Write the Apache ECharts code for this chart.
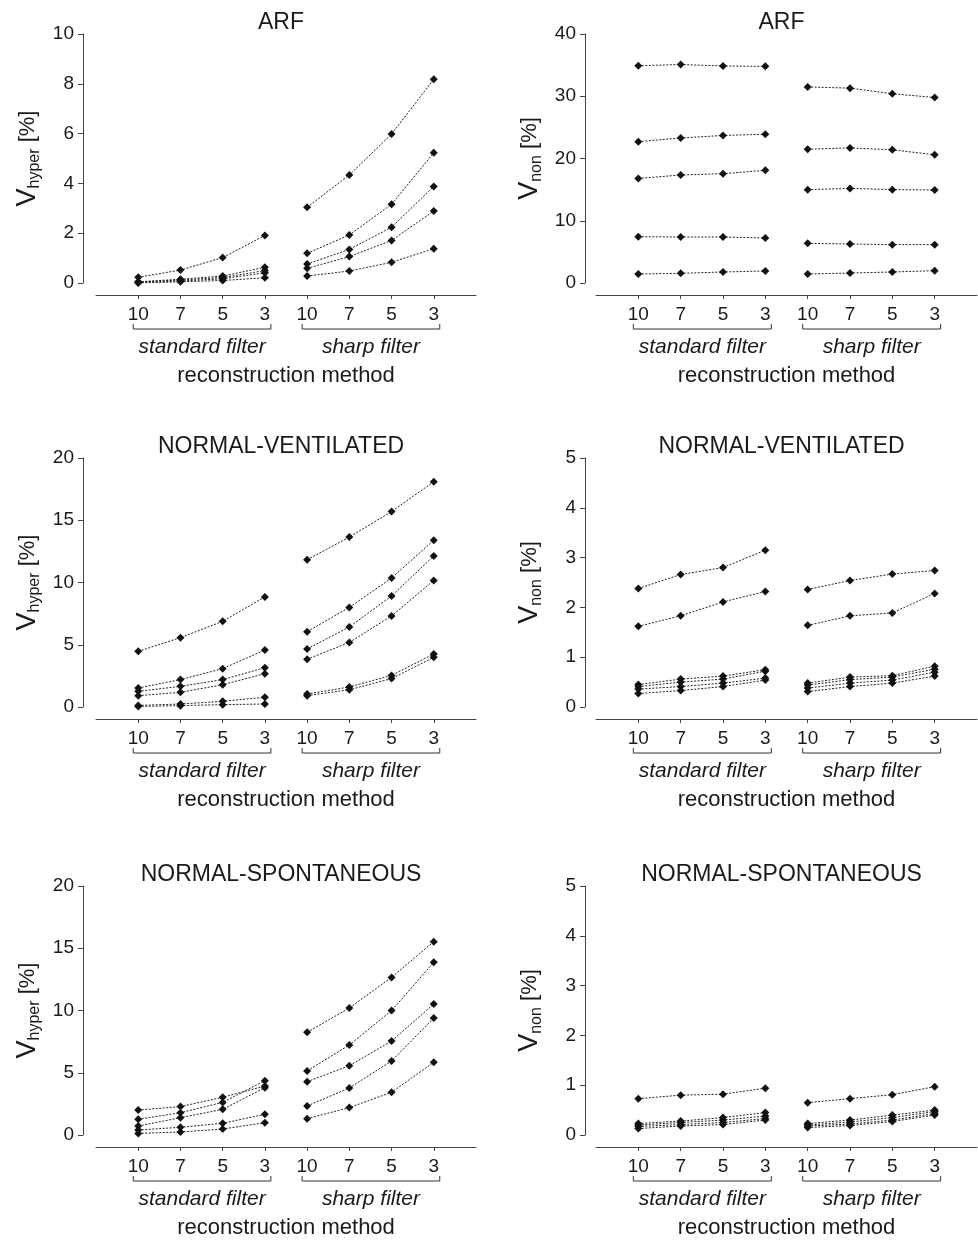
<!DOCTYPE html>
<html>
<head>
<meta charset="utf-8">
<script src="https://cdn.jsdelivr.net/npm/echarts@6/dist/echarts.min.js"></script>
<style>
html, body { margin: 0; padding: 0; background: #fff; }
#chart { width: 978px; height: 1240px; }
</style>
</head>
<body>
<div id="chart"></div>
<script>
var kernels = ['10', '7', '5', '3'];
var filters = ['standard filter', 'sharp filter'];
var titles = ['ARF', 'NORMAL-VENTILATED', 'NORMAL-SPONTANEOUS'];

// one row per subject, values at kernel 10, 7, 5, 3
var arfHyperStd = [[0.23, 0.52, 1.02, 1.91], [0.05, 0.15, 0.28, 0.63], [0.04, 0.12, 0.22, 0.50], [0.02, 0.08, 0.17, 0.41], [0.00, 0.05, 0.10, 0.21]];
var arfHyperSharp = [[3.04, 4.34, 5.98, 8.18], [1.19, 1.93, 3.16, 5.23], [0.76, 1.35, 2.24, 3.88], [0.59, 1.06, 1.71, 2.89], [0.28, 0.48, 0.83, 1.38]];
var arfNonStd = [[34.9, 35.1, 34.86, 34.8], [22.7, 23.3, 23.7, 23.9], [16.8, 17.35, 17.56, 18.1], [7.44, 7.39, 7.39, 7.23], [1.45, 1.55, 1.77, 1.93]];
var arfNonSharp = [[31.5, 31.3, 30.4, 29.8], [21.5, 21.7, 21.4, 20.6], [15.0, 15.2, 15.0, 14.94], [6.37, 6.27, 6.16, 6.16], [1.45, 1.6, 1.77, 1.98]];
var nvHyperStd = [[4.47, 5.57, 6.88, 8.84], [1.53, 2.2, 3.08, 4.58], [1.26, 1.66, 2.2, 3.16], [0.91, 1.18, 1.79, 2.68], [0.13, 0.24, 0.46, 0.78], [0.05, 0.11, 0.19, 0.24]];
var nvHyperSharp = [[11.83, 13.65, 15.7, 18.1], [6.05, 8.0, 10.36, 13.39], [4.66, 6.43, 8.92, 12.13], [3.83, 5.19, 7.31, 10.17], [1.04, 1.61, 2.54, 4.26], [0.91, 1.39, 2.28, 3.99]];
var nvNonStd = [[2.38, 2.66, 2.8, 3.15], [1.62, 1.83, 2.11, 2.32], [0.45, 0.56, 0.62, 0.75], [0.41, 0.5, 0.56, 0.72], [0.36, 0.41, 0.48, 0.58], [0.27, 0.33, 0.41, 0.54]];
var nvNonSharp = [[2.36, 2.54, 2.67, 2.74], [1.64, 1.83, 1.89, 2.28], [0.48, 0.6, 0.63, 0.82], [0.44, 0.55, 0.6, 0.76], [0.38, 0.48, 0.54, 0.7], [0.31, 0.41, 0.48, 0.62]];
var nsHyperStd = [[2.0, 2.28, 3.03, 3.94], [1.26, 1.79, 2.62, 4.36], [0.72, 1.39, 2.06, 3.8], [0.4, 0.62, 0.94, 1.66], [0.13, 0.24, 0.48, 0.99]];
var nsHyperSharp = [[8.25, 10.2, 12.66, 15.53], [5.14, 7.23, 9.99, 13.87], [4.28, 5.57, 7.55, 10.52], [2.33, 3.78, 5.94, 9.4], [1.31, 2.2, 3.43, 5.84]];
var nsNonStd = [[0.73, 0.8, 0.82, 0.94], [0.23, 0.28, 0.35, 0.45], [0.2, 0.25, 0.3, 0.38], [0.17, 0.21, 0.25, 0.33], [0.13, 0.18, 0.21, 0.3]];
var nsNonSharp = [[0.65, 0.73, 0.81, 0.97], [0.23, 0.3, 0.4, 0.5], [0.2, 0.26, 0.35, 0.47], [0.18, 0.22, 0.3, 0.43], [0.15, 0.19, 0.27, 0.4]];

var yMax = [10, 40, 20, 5, 20, 5];
var yStep = [2, 10, 5, 1, 5, 1];

var panels = [
  { std: arfHyperStd, sharp: arfHyperSharp, sub: 'hyper' },
  { std: arfNonStd, sharp: arfNonSharp, sub: 'non' },
  { std: nvHyperStd, sharp: nvHyperSharp, sub: 'hyper' },
  { std: nvNonStd, sharp: nvNonSharp, sub: 'non' },
  { std: nsHyperStd, sharp: nsHyperSharp, sub: 'hyper' },
  { std: nsNonStd, sharp: nsNonSharp, sub: 'non' }
];

var FONT = '"Liberation Sans", Arial, Helvetica, sans-serif';
var INK = '#1a1a1a';
var colLeft = [96, 596], colWidth = [380, 381];
var rowTop = [34, 458, 886], plotH = 249, gap = 12;

var chart = echarts.init(document.getElementById('chart'));

var grids = [], xAxes = [], yAxes = [], series = [];
panels.forEach(function (p, i) {
  var col = i % 2, row = Math.floor(i / 2);
  grids.push({ left: colLeft[col], top: rowTop[row], width: colWidth[col], height: plotH });
  xAxes.push({
    gridIndex: i, type: 'value', min: 0, max: 9, interval: 1, offset: gap,
    axisLine: { onZero: false, lineStyle: { color: '#444', width: 1 } },
    axisTick: { length: 4, customValues: [1, 2, 3, 4, 5, 6, 7, 8], lineStyle: { color: '#444' } },
    axisLabel: {
      customValues: [1, 2, 3, 4, 5, 6, 7, 8], margin: 10, fontSize: 19, color: INK, fontFamily: FONT,
      formatter: function (v) { return (v >= 1 && v <= 8) ? kernels[(v - 1) % 4] : ''; }
    },
    splitLine: { show: false },
    name: 'reconstruction method', nameLocation: 'middle', nameGap: 70,
    nameTextStyle: { fontSize: 22, color: INK, fontFamily: FONT }
  });
  yAxes.push({
    gridIndex: i, type: 'value', min: 0, max: yMax[i], interval: yStep[i], offset: col ? 11 : 13,
    axisLine: { show: true, onZero: false, lineStyle: { color: '#444', width: 1 } },
    axisTick: { show: true, length: 5, lineStyle: { color: '#444' } },
    axisLabel: { margin: 9, fontSize: 19, color: INK, fontFamily: FONT },
    splitLine: { show: false },
    name: '{v|V}{s|' + p.sub + '}{u| [%]}', nameLocation: 'middle', nameRotate: 90, nameGap: 40,
    nameTextStyle: {
      color: INK, fontFamily: FONT,
      rich: {
        v: { fontSize: 27, color: INK, fontFamily: FONT },
        s: { fontSize: 16, color: INK, fontFamily: FONT, padding: [14, 0, 0, 0] },
        u: { fontSize: 22, color: INK, fontFamily: FONT }
      }
    }
  });
  [p.std, p.sharp].forEach(function (rows, f) {
    rows.forEach(function (vals) {
      series.push({
        type: 'line', xAxisIndex: i, yAxisIndex: i,
        data: vals.map(function (v, k) { return [f * 4 + k + 1, v]; }),
        symbol: 'diamond', symbolSize: 8,
        itemStyle: { color: '#111' },
        lineStyle: { color: '#222', width: 1, type: [2, 1.5] },
        silent: true
      });
    });
  });
});

chart.setOption({
  animation: false,
  grid: grids, xAxis: xAxes, yAxis: yAxes, series: series
});

// titles, filter brackets and filter labels
var graphics = [];
panels.forEach(function (p, i) {
  var col = i % 2, row = Math.floor(i / 2);
  var cx = colLeft[col] + colWidth[col] / 2 - 5;
  graphics.push({
    type: 'text', x: cx, y: rowTop[row] - 11,
    style: { text: titles[row], font: '23px ' + FONT, fill: INK, align: 'center', verticalAlign: 'middle' }
  });
  var by = rowTop[row] + plotH + gap + 34;
  filters.forEach(function (name, f) {
    var x1 = chart.convertToPixel({ gridIndex: i }, [f * 4 + 1, 0])[0] - 5;
    var x2 = chart.convertToPixel({ gridIndex: i }, [f * 4 + 4, 0])[0] + 6;
    graphics.push({
      type: 'polyline',
      shape: { points: [[x1, by - 5], [x1, by], [x2, by], [x2, by - 5]] },
      style: { stroke: '#333', lineWidth: 1, fill: null }
    });
    graphics.push({
      type: 'text', x: (x1 + x2) / 2, y: by + 18,
      style: { text: name, font: 'italic 21px ' + FONT, fill: INK, align: 'center', verticalAlign: 'middle' }
    });
  });
});
chart.setOption({ graphic: graphics });
</script>
</body>
</html>
